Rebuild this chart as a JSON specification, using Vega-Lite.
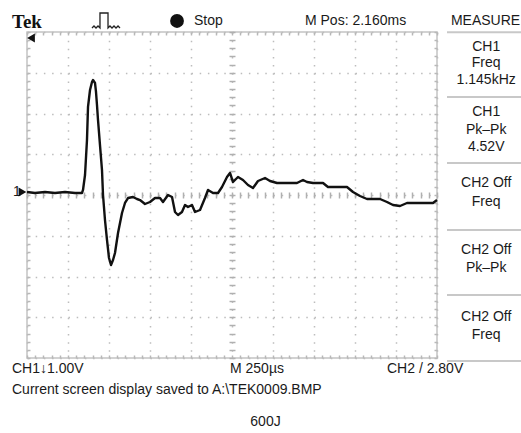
{
  "$schema": "https://vega.github.io/schema/vega-lite/v6.json",
  "width": 410,
  "height": 326,
  "autosize": "none",
  "padding": {"left": 27, "top": 32, "right": 84, "bottom": 75},
  "background": "white",
  "config": {"view": {"stroke": "#c4c4c4", "strokeWidth": 1.5}, "font": "Liberation Sans"},
  "resolve": {"axis": {"x": "independent", "y": "independent"}},
  "datasets": {
    "trace": [
      {"t":0,"v":0.074},{"t":0.195,"v":0.049},{"t":0.439,"v":0.074},{"t":0.683,"v":0.049},{"t":0.927,"v":0.074},{"t":1.171,"v":0.049},{"t":1.341,"v":0.049},{"t":1.366,"v":0.123},{"t":1.415,"v":0.491},{"t":1.463,"v":1.35},{"t":1.488,"v":2.16},{"t":1.537,"v":2.577},{"t":1.585,"v":2.773},{"t":1.61,"v":2.822},{"t":1.659,"v":2.748},{"t":1.683,"v":2.528},{"t":1.707,"v":2.209},{"t":1.732,"v":1.84},{"t":1.78,"v":1.227},{"t":1.829,"v":0.613},{"t":1.854,"v":0},{"t":1.902,"v":-0.613},{"t":1.951,"v":-1.104},{"t":2.0,"v":-1.546},{"t":2.049,"v":-1.718},{"t":2.098,"v":-1.595},{"t":2.146,"v":-1.423},{"t":2.22,"v":-0.933},{"t":2.317,"v":-0.442},{"t":2.39,"v":-0.196},{"t":2.463,"v":-0.074},{"t":2.585,"v":-0.049},{"t":2.683,"v":-0.098},{"t":2.756,"v":-0.123},{"t":2.878,"v":-0.221},{"t":3.0,"v":-0.172},{"t":3.122,"v":-0.074},{"t":3.244,"v":-0.074},{"t":3.317,"v":-0.172},{"t":3.439,"v":0},{"t":3.537,"v":-0.049},{"t":3.61,"v":-0.417},{"t":3.683,"v":-0.491},{"t":3.78,"v":-0.417},{"t":3.854,"v":-0.245},{"t":3.927,"v":-0.294},{"t":4.024,"v":-0.245},{"t":4.098,"v":-0.417},{"t":4.22,"v":-0.368},{"t":4.341,"v":-0.074},{"t":4.415,"v":0.123},{"t":4.537,"v":0.049},{"t":4.659,"v":0.049},{"t":4.756,"v":0.196},{"t":4.878,"v":0.442},{"t":4.951,"v":0.54},{"t":5.024,"v":0.319},{"t":5.146,"v":0.442},{"t":5.268,"v":0.368},{"t":5.39,"v":0.245},{"t":5.512,"v":0.172},{"t":5.634,"v":0.344},{"t":5.805,"v":0.417},{"t":5.927,"v":0.344},{"t":6.098,"v":0.294},{"t":6.341,"v":0.294},{"t":6.585,"v":0.294},{"t":6.732,"v":0.368},{"t":6.829,"v":0.319},{"t":6.976,"v":0.294},{"t":7.22,"v":0.294},{"t":7.341,"v":0.196},{"t":7.805,"v":0.196},{"t":7.951,"v":0.074},{"t":8.122,"v":-0.025},{"t":8.293,"v":-0.098},{"t":8.61,"v":-0.098},{"t":8.78,"v":-0.172},{"t":8.927,"v":-0.245},{"t":9.098,"v":-0.27},{"t":9.268,"v":-0.196},{"t":9.902,"v":-0.196},{"t":10.0,"v":-0.123}
    ],
    "icon": [
      {"i":0,"x":1.585,"y":4.098},{"i":1,"x":1.634,"y":4.147},{"i":2,"x":1.683,"y":4.098},{"i":3,"x":1.732,"y":4.147},{"i":4,"x":1.78,"y":4.098},{"i":5,"x":1.78,"y":4.466},{"i":6,"x":1.976,"y":4.466},{"i":7,"x":1.976,"y":4.098},{"i":8,"x":2.024,"y":4.147},{"i":9,"x":2.073,"y":4.098},{"i":10,"x":2.122,"y":4.147},{"i":11,"x":2.171,"y":4.098},{"i":12,"x":2.22,"y":4.147},{"i":13,"x":2.268,"y":4.098}
    ],
    "leftText": [
      {"x":4.073,"y":4.27,"label":"Stop"},
      {"x":6.78,"y":4.27,"label":"M Pos: 2.160ms"},
      {"x":-0.366,"y":-4.27,"label":"CH1↓1.00V"},
      {"x":4.951,"y":-4.27,"label":"M 250µs"},
      {"x":8.78,"y":-4.27,"label":"CH2 / 2.80V"},
      {"x":-0.366,"y":-4.785,"label":"Current screen display saved to A:\\TEK0009.BMP"},
      {"x":-0.341,"y":0.074,"label":"1"}
    ],
    "centerText": [
      {"x":11.183,"y":4.27,"label":"MEASURE"},
      {"x":11.2,"y":3.632,"label":"CH1"},
      {"x":11.2,"y":3.239,"label":"Freq"},
      {"x":11.2,"y":2.822,"label":"1.145kHz"},
      {"x":11.2,"y":2.037,"label":"CH1"},
      {"x":11.2,"y":1.595,"label":"Pk–Pk"},
      {"x":11.2,"y":1.178,"label":"4.52V"},
      {"x":11.2,"y":0.294,"label":"CH2 Off"},
      {"x":11.2,"y":-0.172,"label":"Freq"},
      {"x":11.2,"y":-1.35,"label":"CH2 Off"},
      {"x":11.2,"y":-1.791,"label":"Pk–Pk"},
      {"x":11.2,"y":-2.994,"label":"CH2 Off"},
      {"x":11.2,"y":-3.436,"label":"Freq"},
      {"x":5.817,"y":-5.571,"label":"600J"}
    ],
    "brand": [{"x":-0.366,"y":4.25,"label":"Tek"}],
    "seps": [
      {"x":10.244,"x2":12.049,"y":3.993},
      {"x":10.244,"x2":12.049,"y":2.405},
      {"x":10.244,"x2":12.049,"y":0.785},
      {"x":10.244,"x2":12.049,"y":-0.859},
      {"x":10.244,"x2":12.049,"y":-2.454},
      {"x":10.244,"x2":12.049,"y":-4.074}
    ],
    "dot": [{"x":3.659,"y":4.27}],
    "rightTri": [{"x":-0.11,"y":0.074}],
    "leftTri": [{"x":0.098,"y":3.853}]
  },
  "layer": [
    {
      "data": {"name": "trace"},
      "mark": {"type": "line", "opacity": 0},
      "encoding": {
        "x": {"field": "t", "type": "quantitative", "scale": {"domain": [0, 10], "nice": false, "zero": false},
              "axis": {"orient": "bottom", "values": [0,1,2,3,4,5,6,7,8,9,10], "grid": true, "gridColor": "#bdbdbd", "gridDash": [1.5, 6.65], "gridWidth": 1.5, "ticks": false, "labels": false, "domain": false, "title": null}},
        "y": {"field": "v", "type": "quantitative", "scale": {"domain": [-4, 4], "nice": false, "zero": false},
              "axis": {"orient": "left", "values": [-4,-3,-2,-1,0,1,2,3,4], "grid": true, "gridColor": "#bdbdbd", "gridDash": [1.5, 6.7], "gridWidth": 1.5, "ticks": false, "labels": false, "domain": false, "title": null}}
      }
    },
    {
      "data": {"name": "trace"},
      "mark": {"type": "line", "opacity": 0},
      "encoding": {
        "x": {"field": "t", "type": "quantitative", "scale": {"domain": [0, 10], "nice": false, "zero": false},
              "axis": {"orient": "bottom", "offset": -166, "values": [0,0.2,0.4,0.6,0.8,1,1.2,1.4,1.6,1.8,2,2.2,2.4,2.6,2.8,3,3.2,3.4,3.6,3.8,4,4.2,4.4,4.6,4.8,5,5.2,5.4,5.6,5.8,6,6.2,6.4,6.6,6.8,7,7.2,7.4,7.6,7.8,8,8.2,8.4,8.6,8.8,9,9.2,9.4,9.6,9.8,10], "grid": false, "ticks": true, "tickSize": 6, "tickColor": "#b0b0b0", "tickWidth": 1.5, "labels": false, "domain": false, "title": null}},
        "y": {"field": "v", "type": "quantitative", "scale": {"domain": [-4, 4], "nice": false, "zero": false},
              "axis": {"orient": "left", "offset": -208, "values": [-4,-3.8,-3.6,-3.4,-3.2,-3,-2.8,-2.6,-2.4,-2.2,-2,-1.8,-1.6,-1.4,-1.2,-1,-0.8,-0.6,-0.4,-0.2,0,0.2,0.4,0.6,0.8,1,1.2,1.4,1.6,1.8,2,2.2,2.4,2.6,2.8,3,3.2,3.4,3.6,3.8,4], "grid": false, "ticks": true, "tickSize": 6, "tickColor": "#b0b0b0", "tickWidth": 1.5, "labels": false, "domain": false, "title": null}}
      }
    },
    {
      "data": {"name": "trace"},
      "mark": {"type": "line", "opacity": 0},
      "encoding": {
        "x": {"field": "t", "type": "quantitative", "scale": {"domain": [0, 10], "nice": false, "zero": false},
              "axis": {"orient": "top", "offset": -3, "values": [0,0.2,0.4,0.6,0.8,1,1.2,1.4,1.6,1.8,2,2.2,2.4,2.6,2.8,3,3.2,3.4,3.6,3.8,4,4.2,4.4,4.6,4.8,5,5.2,5.4,5.6,5.8,6,6.2,6.4,6.6,6.8,7,7.2,7.4,7.6,7.8,8,8.2,8.4,8.6,8.8,9,9.2,9.4,9.6,9.8,10], "grid": false, "ticks": true, "tickSize": 3, "tickColor": "#b8b8b8", "tickWidth": 1.5, "labels": false, "domain": false, "title": null}},
        "y": {"field": "v", "type": "quantitative", "scale": {"domain": [-4, 4], "nice": false, "zero": false},
              "axis": {"orient": "left", "offset": -3, "values": [-4,-3.8,-3.6,-3.4,-3.2,-3,-2.8,-2.6,-2.4,-2.2,-2,-1.8,-1.6,-1.4,-1.2,-1,-0.8,-0.6,-0.4,-0.2,0,0.2,0.4,0.6,0.8,1,1.2,1.4,1.6,1.8,2,2.2,2.4,2.6,2.8,3,3.2,3.4,3.6,3.8,4], "grid": false, "ticks": true, "tickSize": 3, "tickColor": "#b8b8b8", "tickWidth": 1.5, "labels": false, "domain": false, "title": null}}
      }
    },
    {
      "data": {"name": "trace"},
      "mark": {"type": "line", "opacity": 0},
      "encoding": {
        "x": {"field": "t", "type": "quantitative", "scale": {"domain": [0, 10], "nice": false, "zero": false},
              "axis": {"orient": "bottom", "offset": -3, "values": [0,0.2,0.4,0.6,0.8,1,1.2,1.4,1.6,1.8,2,2.2,2.4,2.6,2.8,3,3.2,3.4,3.6,3.8,4,4.2,4.4,4.6,4.8,5,5.2,5.4,5.6,5.8,6,6.2,6.4,6.6,6.8,7,7.2,7.4,7.6,7.8,8,8.2,8.4,8.6,8.8,9,9.2,9.4,9.6,9.8,10], "grid": false, "ticks": true, "tickSize": 3, "tickColor": "#b8b8b8", "tickWidth": 1.5, "labels": false, "domain": false, "title": null}},
        "y": {"field": "v", "type": "quantitative", "scale": {"domain": [-4, 4], "nice": false, "zero": false},
              "axis": {"orient": "right", "offset": -3, "values": [-4,-3.8,-3.6,-3.4,-3.2,-3,-2.8,-2.6,-2.4,-2.2,-2,-1.8,-1.6,-1.4,-1.2,-1,-0.8,-0.6,-0.4,-0.2,0,0.2,0.4,0.6,0.8,1,1.2,1.4,1.6,1.8,2,2.2,2.4,2.6,2.8,3,3.2,3.4,3.6,3.8,4], "grid": false, "ticks": true, "tickSize": 3, "tickColor": "#b8b8b8", "tickWidth": 1.5, "labels": false, "domain": false, "title": null}}
      }
    },
    {
      "data": {"name": "trace"},
      "mark": {"type": "line", "color": "#111111", "strokeWidth": 2.4, "strokeJoin": "round"},
      "encoding": {
        "x": {"field": "t", "type": "quantitative", "scale": {"domain": [0, 10], "nice": false, "zero": false}, "axis": null},
        "y": {"field": "v", "type": "quantitative", "scale": {"domain": [-4, 4], "nice": false, "zero": false}, "axis": null}
      }
    },
    {
      "data": {"name": "seps"},
      "mark": {"type": "rule", "color": "#c8c8c8", "strokeWidth": 2},
      "encoding": {
        "x": {"field": "x", "type": "quantitative", "scale": {"domain": [0, 10], "nice": false, "zero": false}, "axis": null},
        "x2": {"field": "x2"},
        "y": {"field": "y", "type": "quantitative", "scale": {"domain": [-4, 4], "nice": false, "zero": false}, "axis": null}
      }
    },
    {
      "data": {"name": "icon"},
      "mark": {"type": "line", "color": "#222222", "strokeWidth": 1.3},
      "encoding": {
        "x": {"field": "x", "type": "quantitative", "scale": {"domain": [0, 10], "nice": false, "zero": false}, "axis": null},
        "y": {"field": "y", "type": "quantitative", "scale": {"domain": [-4, 4], "nice": false, "zero": false}, "axis": null},
        "order": {"field": "i"}
      }
    },
    {
      "data": {"name": "leftText"},
      "mark": {"type": "text", "align": "left", "baseline": "middle", "fontSize": 14, "font": "Liberation Sans", "color": "#1a1a1a"},
      "encoding": {
        "x": {"field": "x", "type": "quantitative", "scale": {"domain": [0, 10], "nice": false, "zero": false}, "axis": null},
        "y": {"field": "y", "type": "quantitative", "scale": {"domain": [-4, 4], "nice": false, "zero": false}, "axis": null},
        "text": {"field": "label"}
      }
    },
    {
      "data": {"name": "centerText"},
      "mark": {"type": "text", "align": "center", "baseline": "middle", "fontSize": 14, "font": "Liberation Sans", "color": "#1a1a1a"},
      "encoding": {
        "x": {"field": "x", "type": "quantitative", "scale": {"domain": [0, 10], "nice": false, "zero": false}, "axis": null},
        "y": {"field": "y", "type": "quantitative", "scale": {"domain": [-4, 4], "nice": false, "zero": false}, "axis": null},
        "text": {"field": "label"}
      }
    },
    {
      "data": {"name": "brand"},
      "mark": {"type": "text", "align": "left", "baseline": "middle", "fontSize": 19, "font": "Liberation Serif", "fontWeight": "bold", "color": "#111111"},
      "encoding": {
        "x": {"field": "x", "type": "quantitative", "scale": {"domain": [0, 10], "nice": false, "zero": false}, "axis": null},
        "y": {"field": "y", "type": "quantitative", "scale": {"domain": [-4, 4], "nice": false, "zero": false}, "axis": null},
        "text": {"field": "label"}
      }
    },
    {
      "data": {"name": "dot"},
      "mark": {"type": "point", "shape": "circle", "filled": true, "color": "#111111", "size": 190, "opacity": 1},
      "encoding": {
        "x": {"field": "x", "type": "quantitative", "scale": {"domain": [0, 10], "nice": false, "zero": false}, "axis": null},
        "y": {"field": "y", "type": "quantitative", "scale": {"domain": [-4, 4], "nice": false, "zero": false}, "axis": null}
      }
    },
    {
      "data": {"name": "rightTri"},
      "mark": {"type": "point", "shape": "triangle-right", "filled": true, "color": "#111111", "size": 80, "opacity": 1},
      "encoding": {
        "x": {"field": "x", "type": "quantitative", "scale": {"domain": [0, 10], "nice": false, "zero": false}, "axis": null},
        "y": {"field": "y", "type": "quantitative", "scale": {"domain": [-4, 4], "nice": false, "zero": false}, "axis": null}
      }
    },
    {
      "data": {"name": "leftTri"},
      "mark": {"type": "point", "shape": "triangle-left", "filled": true, "color": "#111111", "size": 80, "opacity": 1},
      "encoding": {
        "x": {"field": "x", "type": "quantitative", "scale": {"domain": [0, 10], "nice": false, "zero": false}, "axis": null},
        "y": {"field": "y", "type": "quantitative", "scale": {"domain": [-4, 4], "nice": false, "zero": false}, "axis": null}
      }
    }
  ]
}
